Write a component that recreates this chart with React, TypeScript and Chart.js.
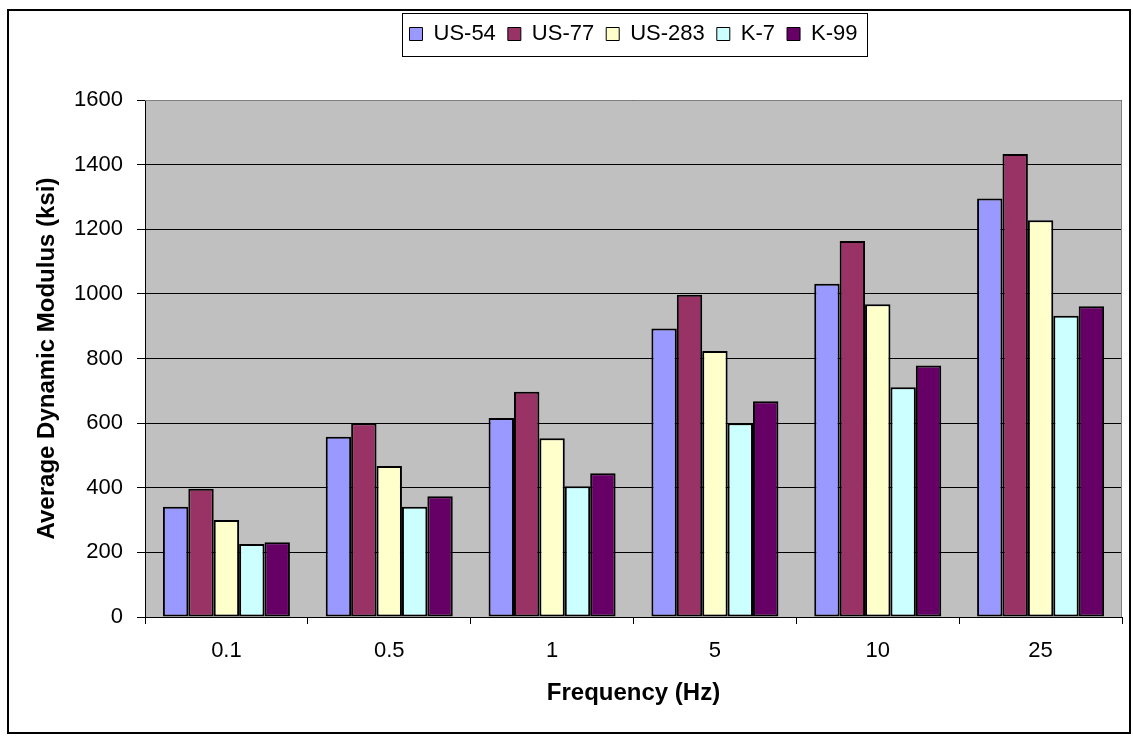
import { useEffect, useRef } from "react";
import { Chart, registerables } from "chart.js";

Chart.register(...registerables);

// Test frequencies (Hz) on the category axis
const frequencies = ["0.1", "0.5", "1", "5", "10", "25"];

// Average dynamic modulus (ksi) per route
const us54 = [341, 558, 616, 893, 1031, 1295];
const us77 = [397, 600, 697, 997, 1164, 1433];
const us283 = [300, 467, 553, 823, 968, 1228];
const k7 = [226, 341, 405, 600, 711, 932];
const k99 = [231, 374, 445, 668, 778, 962];

const seriesNames = ["US-54", "US-77", "US-283", "K-7", "K-99"];
const seriesValues = [us54, us77, us283, k7, k99];
const seriesColors = ["#9999FF", "#993366", "#FFFFCC", "#CCFFFF", "#660066"];

const yMin = 0;
const yMax = 1600;
const yStep = 200;

const FONT = "'Liberation Sans', Arial, sans-serif";

// Grey plot area with a thin darker frame
const plotArea = {
  id: "plotArea",
  beforeDraw(chart: any) {
    const { ctx, chartArea } = chart;
    ctx.save();
    ctx.fillStyle = "#C0C0C0";
    ctx.fillRect(chartArea.left, chartArea.top, chartArea.width, chartArea.height);
    ctx.restore();
  },
  beforeDatasetsDraw(chart: any) {
    const { ctx, chartArea } = chart;
    ctx.save();
    ctx.strokeStyle = "#808080";
    ctx.lineWidth = 1;
    ctx.beginPath();
    ctx.moveTo(chartArea.left, chartArea.top + 0.5);
    ctx.lineTo(chartArea.right - 0.5, chartArea.top + 0.5);
    ctx.lineTo(chartArea.right - 0.5, chartArea.bottom);
    ctx.stroke();
    ctx.restore();
  },
};

// Legend: fixed band height, centred over the plot, boxed
const legendBox = {
  id: "legendBox",
  beforeInit(chart: any) {
    const legend = chart.legend;
    if (!legend) return;
    const fit = legend.fit;
    legend.fit = function () {
      fit.call(this);
      this.height = 89;
    };
  },
  afterLayout(chart: any) {
    const legend = chart.legend;
    if (!legend) return;
    legend.left = chart.chartArea.left;
    legend.right = chart.chartArea.right;
    legend.width = legend.right - legend.left;
  },
  afterDraw(chart: any) {
    const legend = chart.legend;
    const boxes = legend && legend.legendHitBoxes;
    if (!boxes || !boxes.length) return;
    const first = boxes[0];
    const last = boxes[boxes.length - 1];
    const cy = first.top + first.height / 2;
    const left = Math.round(first.left - 7);
    const right = Math.round(last.left + last.width + 9);
    const top = Math.round(cy - 21.5);
    const bottom = Math.round(cy + 21.5);
    const { ctx } = chart;
    ctx.save();
    ctx.strokeStyle = "#000000";
    ctx.lineWidth = 1;
    ctx.strokeRect(left + 0.5, top + 0.5, right - left, bottom - top);
    ctx.restore();
  },
};

export default function App() {
  const canvasRef = useRef<HTMLCanvasElement | null>(null);

  useEffect(() => {
    const canvas = canvasRef.current;
    if (!canvas) return;

    const chart = new Chart(canvas, {
      type: "bar",
      data: {
        labels: frequencies,
        datasets: seriesNames.map((name, i) => ({
          label: name,
          data: seriesValues[i],
          backgroundColor: seriesColors[i],
          borderColor: "#000000",
          borderWidth: 2,
          borderSkipped: false,
          barPercentage: 1,
          categoryPercentage: 0.78,
        })),
      },
      options: {
        responsive: false,
        devicePixelRatio: 1,
        animation: false,
        layout: { padding: { left: 0, right: 7, top: 0, bottom: 0 } },
        plugins: {
          tooltip: { enabled: false },
          legend: {
            position: "top",
            align: "center",
            labels: {
              boxWidth: 13,
              boxHeight: 13,
              padding: 12,
              color: "#000000",
              font: { family: FONT, size: 22 },
              generateLabels(c: any) {
                return Chart.defaults.plugins.legend.labels
                  .generateLabels(c)
                  .map((l: any) => ({ ...l, lineWidth: 1 }));
              },
            },
          },
        },
        scales: {
          x: {
            grid: {
              display: true,
              drawOnChartArea: false,
              drawTicks: true,
              tickLength: 7,
              color: "#000000",
              offset: true,
            },
            border: { display: true, color: "#000000", width: 1 },
            ticks: {
              color: "#000000",
              font: { family: FONT, size: 22 },
              padding: 14,
            },
            title: {
              display: true,
              text: "Frequency (Hz)",
              color: "#000000",
              font: { family: FONT, size: 24, weight: "bold" },
              padding: { top: 0, bottom: 24 },
            },
            afterFit(scale: any) {
              scale.height = 115;
            },
          },
          y: {
            min: yMin,
            max: yMax,
            ticks: {
              stepSize: yStep,
              color: "#000000",
              font: { family: FONT, size: 22 },
              padding: 14,
              callback: (value: any) => String(value),
            },
            grid: {
              color: "#000000",
              lineWidth: 1,
              drawTicks: true,
              tickLength: 8,
            },
            border: { display: true, color: "#000000", width: 1 },
            title: {
              display: true,
              text: "Average Dynamic Modulus (ksi)",
              color: "#000000",
              font: { family: FONT, size: 24, weight: "bold" },
              padding: { top: 24, bottom: 0 },
            },
            afterFit(scale: any) {
              scale.width = 136;
            },
          },
        },
      },
      plugins: [plotArea, legendBox],
    } as any);

    return () => chart.destroy();
  }, []);

  return (
    <div
      style={{
        position: "absolute",
        left: 7,
        top: 9,
        border: "2px solid #000000",
        background: "#FFFFFF",
        width: 1120,
        height: 721,
      }}
    >
      <canvas ref={canvasRef} width={1120} height={721} style={{ display: "block" }} />
    </div>
  );
}
